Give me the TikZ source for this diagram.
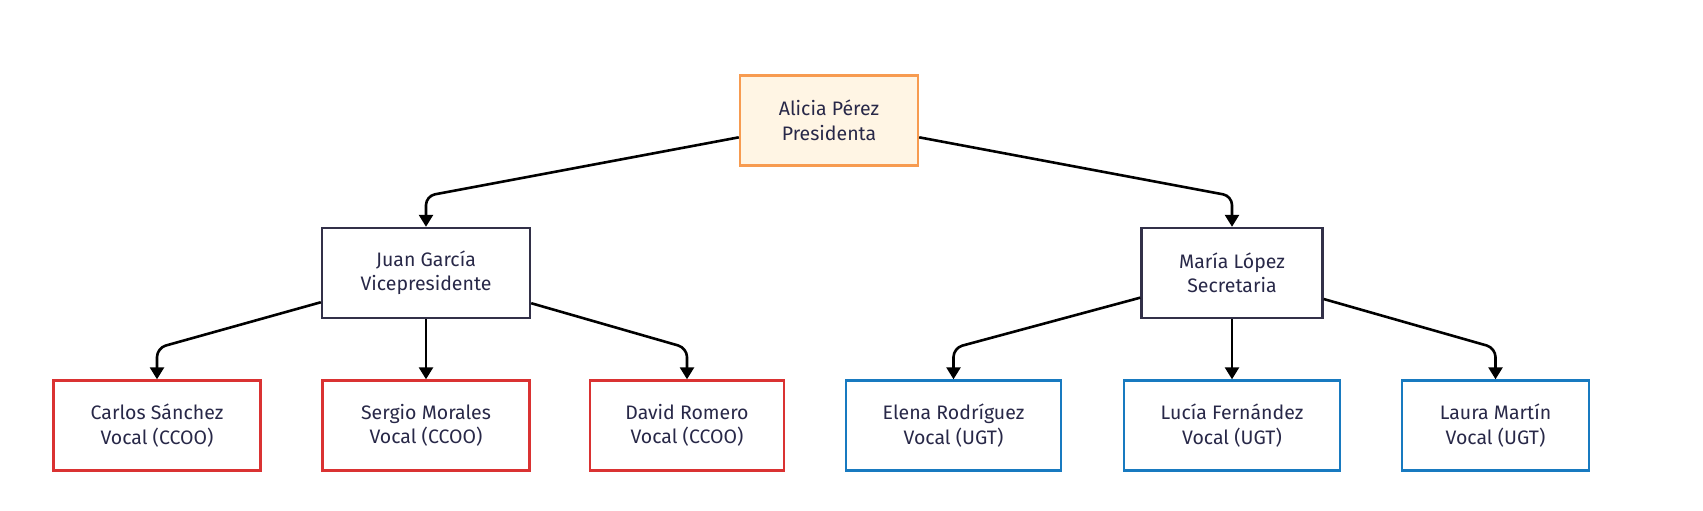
\documentclass[tikz,border=0pt]{standalone}
\usepackage{fontspec}
\setmainfont{Fira Sans}
\usetikzlibrary{arrows.meta}
\definecolor{txt}{RGB}{40,40,72}
\definecolor{topfill}{RGB}{255,245,228}
\definecolor{topdraw}{RGB}{247,155,80}
\definecolor{middraw}{RGB}{50,48,72}
\definecolor{reddraw}{RGB}{218,50,50}
\definecolor{bluedraw}{RGB}{24,122,192}
\tikzset{
  box/.style={draw, line width=2.4pt, rectangle, align=center, inner sep=0pt,
    minimum height=90pt, text=txt, font=\fontsize{19.5}{24.5}\selectfont},
  topbox/.style={box, fill=topfill, draw=topdraw},
  midbox/.style={box, fill=white, draw=middraw},
  redbox/.style={box, fill=white, draw=reddraw},
  bluebox/.style={box, fill=white, draw=bluedraw},
  edge/.style={line width=2.6pt, rounded corners=9pt, -{Triangle[width=14pt,length=12pt]}}
}
\begin{document}
\begin{tikzpicture}[x=1pt,y=-1pt]
\useasboundingbox (0,0) rectangle (1703,511);
\node[topbox, minimum width=178pt] (alicia) at (829,120.5) {Alicia Pérez\\Presidenta};
\node[midbox, minimum width=208pt] (juan) at (426,273) {Juan García\\Vicepresidente};
\node[midbox, minimum width=181pt] (maria) at (1232,273) {María López\\Secretaria};
\node[redbox, minimum width=207pt] (carlos) at (157,425.5) {Carlos Sánchez\\Vocal (CCOO)};
\node[redbox, minimum width=207pt] (sergio) at (426,425.5) {Sergio Morales\\Vocal (CCOO)};
\node[redbox, minimum width=194pt] (david) at (687,425.5) {David Romero\\Vocal (CCOO)};
\node[bluebox, minimum width=215pt] (elena) at (953.5,425.5) {Elena Rodríguez\\Vocal (UGT)};
\node[bluebox, minimum width=216pt] (lucia) at (1232,425.5) {Lucía Fernández\\Vocal (UGT)};
\node[bluebox, minimum width=187pt] (laura) at (1495.5,425.5) {Laura Martín\\Vocal (UGT)};
\coordinate (v1) at (426,196);
\coordinate (v2) at (1232,196);
\coordinate (v3) at (157,348);
\coordinate (v4) at (687,348);
\coordinate (v5) at (953.5,348);
\coordinate (v6) at (1495.5,348);
\draw[edge] (alicia) -- (v1) -- (juan);
\draw[edge] (alicia) -- (v2) -- (maria);
\draw[edge] (juan) -- (v3) -- (carlos);
\draw[edge] (juan) -- (sergio);
\draw[edge] (juan) -- (v4) -- (david);
\draw[edge] (maria) -- (v5) -- (elena);
\draw[edge] (maria) -- (lucia);
\draw[edge] (maria) -- (v6) -- (laura);
\end{tikzpicture}
\end{document}
